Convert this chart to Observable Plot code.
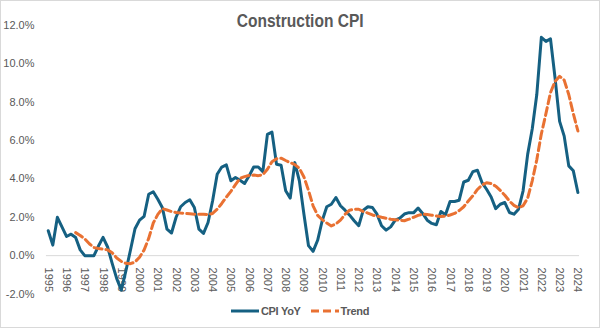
<!DOCTYPE html>
<html>
<head>
<meta charset="utf-8">
<script src="https://cdn.jsdelivr.net/npm/d3@7"></script>
<script src="https://cdn.jsdelivr.net/npm/@observablehq/plot@0.6"></script>
<style>
  html, body { margin: 0; padding: 0; background: #fff; }
  #chart {
    position: relative; width: 600px; height: 328px; box-sizing: border-box;
    border: 1px solid #d9d9d9; background: #fff; overflow: hidden;
    font-family: "Liberation Sans", Arial, sans-serif; color: #595959;
  }
  #title {
    position: absolute; left: 0; right: 0; top: 9px; text-align: center;
    font-family: "Liberation Sans", Arial, sans-serif;
    font-weight: bold; font-size: 18.5px; color: #595959; z-index: 2;
    transform: scaleX(0.84); transform-origin: 300px 0;
  }
  #plot { position: absolute; left: -1px; top: -1px; }
  #legend {
    position: absolute; left: 0; right: 0; top: 302px; height: 16px;
    display: flex; justify-content: center; align-items: center;
    font-family: "Liberation Sans", Arial, sans-serif;
    font-weight: bold; font-size: 11px; letter-spacing: -0.3px; color: #595959;
  }
  .item { display: flex; align-items: center; margin: 0 5px; }
  .item svg { margin-right: 2px; }
</style>
</head>
<body>
<div id="chart">
  <div id="title">Construction CPI</div>
  <div id="plot"></div>
  <div id="legend"></div>
</div>
<script>
// ---- Data ----
const seriesNames = ["CPI YoY", "Trend"];
const seriesColors = ["#156082", "#E97132"];

// Quarterly CPI YoY (%), 1995 Q1 .. 2024 Q1
const cpiStart = 1995;
const cpiValues = [
  1.3, 0.55, 2.0, 1.5,
  1.0, 1.12, 0.95, 0.3,
  0.0, 0.0, 0.0, 0.5,
  0.95, 0.45, -0.4, -1.2,
  -1.8, -0.8, 0.28, 1.4,
  1.85, 2.05, 3.2, 3.33,
  2.94, 2.5, 1.38, 1.18,
  2.0, 2.55, 2.77, 2.91,
  2.51, 1.38, 1.16, 1.73,
  2.86, 4.24, 4.62, 4.73,
  3.9, 4.07, 3.93, 3.76,
  4.16, 4.62, 4.62, 4.38,
  6.32, 6.44, 4.76, 4.71,
  3.38, 3.0, 4.85, 3.9,
  2.16, 0.52, 0.22, 0.8,
  1.82, 2.55, 2.68, 3.03,
  2.6, 2.37, 2.11, 1.82,
  1.56, 2.37, 2.55, 2.51,
  2.16, 1.56, 1.33, 1.5,
  1.85, 1.96, 2.17, 2.24,
  2.23, 2.48, 2.2, 1.85,
  1.68, 1.61, 2.3, 2.13,
  2.82, 2.82, 2.89, 3.84,
  3.93, 4.38, 4.45, 3.81,
  3.46, 3.06, 2.45, 2.68,
  2.77, 2.25, 2.16, 2.42,
  3.38, 5.28, 6.6, 8.4,
  11.38, 11.17, 11.3, 9.26,
  7.0, 6.23, 4.68, 4.42,
  3.29
];

// Quarterly trend (%), 1996 Q3 .. 2024 Q1
const trendStart = 1996.5;
const trendValues = [
  1.2, 1.05,
  0.87, 0.62, 0.42, 0.37,
  0.34, 0.3, 0.15, -0.12,
  -0.3, -0.4, -0.42, -0.33,
  -0.08, 0.3, 0.9, 1.7,
  2.15, 2.45, 2.38, 2.3,
  2.25, 2.22, 2.2, 2.18,
  2.16, 2.16, 2.16, 2.14,
  2.2, 2.42, 2.72, 3.05,
  3.35, 3.7, 4.03, 4.12,
  4.18, 4.2, 4.17, 4.22,
  4.5, 4.9, 5.05, 5.08,
  4.96, 4.85, 4.75, 4.55,
  4.1, 3.4, 2.6, 2.1,
  1.88, 1.7, 1.55, 1.65,
  1.85, 2.15, 2.37, 2.42,
  2.42, 2.3, 2.22, 2.12,
  2.06, 2.0, 1.95, 1.9,
  1.87, 1.84, 1.82, 1.9,
  2.0, 2.1, 2.16, 2.14,
  2.11, 2.07, 2.04, 2.06,
  2.12, 2.2, 2.35, 2.55,
  2.85, 3.12, 3.45, 3.68,
  3.8, 3.76, 3.62, 3.4,
  3.15, 2.85, 2.62, 2.5,
  2.6, 3.0, 3.9, 5.0,
  6.35, 7.4, 8.5, 9.08,
  9.35, 9.15, 8.4, 7.4,
  6.5
];

// Axis ticks
const yearTicks = [1995, 1996, 1997, 1998, 1999, 2000, 2001, 2002, 2003, 2004,
  2005, 2006, 2007, 2008, 2009, 2010, 2011, 2012, 2013, 2014,
  2015, 2016, 2017, 2018, 2019, 2020, 2021, 2022, 2023, 2024];
const yTicks = [-2, 0, 2, 4, 6, 8, 10, 12];

// ---- Build tables ----
const cpiData = cpiValues.map((v, i) => ({date: cpiStart + i / 4, value: v}));
const trendData = trendValues.map((v, i) => ({date: trendStart + i / 4, value: v}));

const chart = Plot.plot({
  width: 600,
  height: 300,
  marginLeft: 46,
  marginRight: 20,
  marginTop: 25,
  marginBottom: 6,
  x: {domain: [1994.9, 2024.09], axis: null},
  y: {domain: [-2, 12], axis: null},
  style: {fontFamily: '"Liberation Sans", Arial, sans-serif', fontSize: "11px", color: "#595959", background: "transparent"},
  marks: [
    Plot.ruleY([0], {stroke: "#d9d9d9", strokeWidth: 1}),
    Plot.axisY(yTicks, {label: null, tickSize: 0, tickPadding: 12, tickFormat: d => d.toFixed(1) + "%", fill: "#595959", fontSize: 11}),
    Plot.text(yearTicks, {x: d => d, y: () => 0, text: d => String(d), rotate: 90, textAnchor: "start", dy: 12, fill: "#595959", fontSize: 11}),
    Plot.line(cpiData, {x: "date", y: "value", stroke: seriesColors[0], strokeWidth: 3, strokeLinejoin: "round"}),
    Plot.line(trendData, {x: "date", y: "value", stroke: seriesColors[1], strokeWidth: 3, strokeDasharray: "8,4", strokeLinejoin: "round"})
  ]
});
document.getElementById("plot").appendChild(chart);

// ---- Legend ----
const legend = document.getElementById("legend");
seriesNames.forEach((name, i) => {
  const item = document.createElement("div");
  item.className = "item";
  const dash = i === 1 ? ' stroke-dasharray="8,4"' : '';
  item.innerHTML = `<svg width="28" height="6"><line x1="0" y1="3" x2="28" y2="3" stroke="${seriesColors[i]}" stroke-width="3"${dash}/></svg><span>${name}</span>`;
  legend.appendChild(item);
});
</script>
</body>
</html>
